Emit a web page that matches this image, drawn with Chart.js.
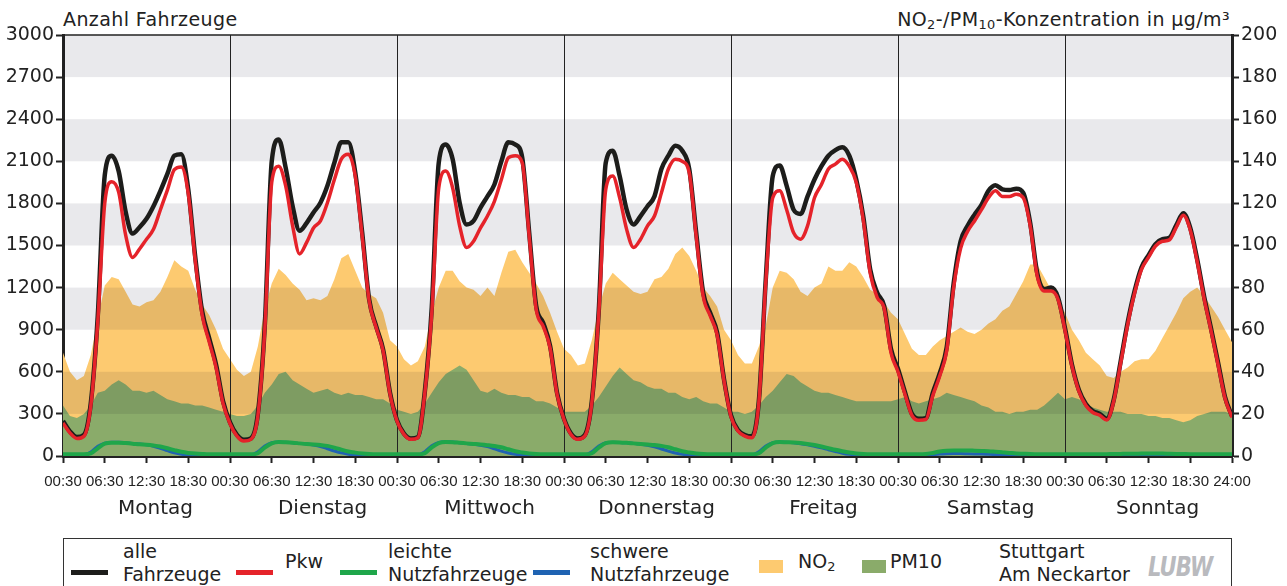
<!DOCTYPE html>
<html lang="de">
<head>
<meta charset="utf-8">
<title>Verkehr und Luftschadstoffe Stuttgart Am Neckartor</title>
<script src="https://cdn.jsdelivr.net/npm/chart.js@4.4.1/dist/chart.umd.min.js"></script>
<style>
  html, body { margin: 0; padding: 0; background: #fff; }
  body { width: 1287px; height: 586px; position: relative; overflow: hidden;
         font-family: 'DejaVu Sans', sans-serif; color: #222; }
  #chart { position: absolute; left: 0; top: 0; }
  .title { position: absolute; top: 9px; font-size: 19px; line-height: 20px; letter-spacing: 0.4px; white-space: nowrap; }
  .title sub, .legend-sub { font-size: 0.68em; vertical-align: -0.25em; line-height: 0; }
  .legend { position: absolute; left: 63px; top: 538px; width: 1167px; height: 70px;
            border: 1.5px solid #333; }
  .item { position: absolute; font-size: 19px; line-height: 22.5px; white-space: nowrap; }
  .swatch { position: absolute; height: 5px; width: 37px; }
  .box { position: absolute; height: 13px; width: 24px; }
  .logo { position: absolute; left: 1148px; top: 551px; font: italic bold 27px 'DejaVu Sans', sans-serif;
          color: #b9babe; letter-spacing: -1px; transform: scaleX(0.78); transform-origin: left top; }
</style>
</head>
<body>
<div class="title" style="left:63px">Anzahl Fahrzeuge</div>
<div class="title" style="right:57px">NO<sub>2</sub>-/PM<sub>10</sub>-Konzentration in µg/m³</div>
<canvas id="chart" width="1287" height="530"></canvas>

<div class="legend"></div>
<div class="swatch" style="left:71px;top:570px;background:#1d1d1b"></div>
<div class="item" style="left:123px;top:540px">alle<br>Fahrzeuge</div>
<div class="swatch" style="left:236px;top:570px;background:#e5232a"></div>
<div class="item" style="left:285px;top:550px">Pkw</div>
<div class="swatch" style="left:340px;top:570px;background:#1fa64a"></div>
<div class="item" style="left:388px;top:540px">leichte<br>Nutzfahrzeuge</div>
<div class="swatch" style="left:533px;top:570px;background:#1f63b2"></div>
<div class="item" style="left:590px;top:540px">schwere<br>Nutzfahrzeuge</div>
<div class="box" style="left:759px;top:560px;background:#fdca70"></div>
<div class="item" style="left:798px;top:550px">NO<span class="legend-sub">2</span></div>
<div class="box" style="left:862px;top:560px;background:#8aab6a"></div>
<div class="item" style="left:890px;top:550px">PM10</div>
<div class="item" style="left:999px;top:540px">Stuttgart<br>Am Neckartor</div>
<div class="logo">LUBW</div>

<script>
// Wochentage, je 24 Stundenwerte (Start 00:30), am Ende der Wert um 24:00
const days = ['Montag', 'Dienstag', 'Mittwoch', 'Donnerstag', 'Freitag', 'Samstag', 'Sonntag'];
const tickTimes = ['00:30', '06:30', '12:30', '18:30'];
const endTime = '24:00';

// Anzahl Fahrzeuge (linke Achse)
const alleFahrzeuge = [
  250, 175, 135, 150, 380, 1000, 2000, 2140, 2030, 1740, 1585, 1630, 1690, 1780, 1890, 2010, 2140, 2150, 1900, 1420, 1030, 840, 650, 390,
  240, 150, 115, 125, 300, 930, 2100, 2255, 2055, 1780, 1605, 1660, 1735, 1805, 1925, 2090, 2235, 2235, 2020, 1590, 1115, 925, 760, 450,
  255, 160, 125, 135, 460, 1060, 2090, 2220, 2115, 1805, 1650, 1675, 1770, 1850, 1935, 2100, 2235, 2220, 2125, 1590, 1070, 950, 785, 450,
  265, 160, 125, 150, 390, 1040, 2090, 2175, 1995, 1755, 1650, 1710, 1780, 1850, 2045, 2140, 2210, 2175, 2045, 1590, 1165, 1020, 880, 545,
  290, 185, 150, 140, 390, 1260, 1995, 2070, 1925, 1755, 1725, 1850, 1970, 2065, 2140, 2180, 2200, 2140, 1970, 1710, 1330, 1165, 1070, 760,
  620, 455, 300, 265, 270, 450, 590, 775, 1230, 1530, 1640, 1720, 1790, 1890, 1930, 1900, 1895, 1905, 1875, 1660, 1305, 1190, 1200, 1130,
  910, 650, 470, 370, 320, 300, 265, 400, 675, 950, 1175, 1345, 1430, 1510, 1545, 1555, 1645, 1730, 1625, 1400, 1135, 905, 665, 420,
  285
];
const pkw = [
  235, 165, 125, 140, 360, 960, 1800, 1955, 1880, 1575, 1415, 1475, 1545, 1615, 1755, 1895, 2040, 2060, 1870, 1395, 1005, 815, 630, 375,
  230, 142, 107, 119, 285, 900, 1950, 2065, 1925, 1640, 1440, 1520, 1625, 1675, 1805, 1970, 2115, 2150, 1995, 1565, 1105, 915, 750, 440,
  249, 154, 119, 130, 450, 1020, 1910, 2030, 1910, 1640, 1485, 1530, 1625, 1710, 1815, 1970, 2125, 2140, 2090, 1565, 1045, 925, 770, 440,
  260, 154, 119, 142, 380, 1020, 1900, 1995, 1840, 1615, 1485, 1545, 1640, 1710, 1875, 2045, 2115, 2100, 2020, 1565, 1140, 1000, 865, 535,
  280, 178, 142, 130, 380, 1235, 1840, 1890, 1755, 1590, 1545, 1640, 1840, 1935, 2045, 2080, 2115, 2065, 1950, 1685, 1305, 1130, 1055, 735,
  600, 440, 290, 255, 260, 430, 570, 750, 1200, 1480, 1600, 1675, 1755, 1840, 1890, 1850, 1850, 1865, 1840, 1640, 1285, 1175, 1175, 1115,
  895, 640, 460, 360, 310, 290, 256, 390, 660, 935, 1160, 1330, 1415, 1495, 1530, 1540, 1630, 1715, 1610, 1385, 1120, 890, 650, 410,
  275
];
const leichteNfz = [
  12, 12, 12, 12, 18, 55, 88, 95, 95, 92, 88, 83, 80, 75, 68, 55, 42, 30, 22, 17, 14, 12, 12, 12,
  12, 12, 12, 12, 20, 60, 90, 100, 98, 95, 90, 85, 82, 78, 72, 60, 45, 32, 24, 18, 14, 12, 12, 12,
  12, 12, 12, 12, 20, 62, 92, 100, 98, 94, 90, 86, 82, 77, 71, 62, 48, 34, 25, 18, 14, 12, 12, 12,
  12, 12, 12, 12, 20, 60, 92, 98, 97, 94, 90, 86, 82, 78, 72, 62, 48, 34, 25, 18, 14, 12, 12, 12,
  12, 12, 12, 12, 20, 60, 92, 100, 98, 96, 92, 86, 78, 68, 56, 44, 34, 25, 18, 14, 12, 12, 12, 12,
  12, 12, 12, 12, 14, 22, 32, 38, 40, 40, 40, 38, 36, 34, 30, 26, 22, 18, 16, 14, 13, 12, 12, 12,
  12, 12, 12, 12, 12, 12, 13, 14, 15, 16, 16, 17, 17, 17, 17, 16, 15, 14, 13, 13, 12, 12, 12, 12,
  12
];
const schwereNfz = [
  5, 5, 5, 8, 28, 70, 92, 98, 98, 95, 90, 85, 80, 70, 55, 38, 22, 12, 8, 6, 5, 5, 5, 5,
  5, 5, 5, 8, 30, 72, 95, 100, 98, 95, 90, 85, 78, 68, 52, 36, 22, 12, 8, 6, 5, 5, 5, 5,
  5, 5, 5, 8, 31, 73, 96, 101, 99, 95, 89, 84, 77, 67, 51, 35, 21, 12, 8, 6, 5, 5, 5, 5,
  5, 5, 5, 8, 30, 72, 95, 98, 97, 94, 90, 84, 76, 66, 50, 35, 21, 12, 8, 6, 5, 5, 5, 5,
  5, 5, 5, 8, 30, 72, 95, 100, 98, 94, 88, 80, 70, 58, 45, 32, 20, 12, 8, 6, 5, 5, 5, 5,
  4, 4, 4, 4, 6, 10, 14, 16, 17, 17, 16, 15, 14, 12, 10, 8, 6, 5, 5, 4, 4, 4, 4, 4,
  3, 3, 3, 3, 3, 3, 4, 4, 5, 5, 5, 5, 5, 5, 5, 5, 4, 4, 4, 4, 3, 3, 3, 3,
  3
];

// Konzentration in µg/m³ (rechte Achse)
const no2 = [
  49, 40, 36, 38, 48, 65, 81, 85, 84, 78, 72, 71, 73, 74, 78, 85, 93, 90, 88, 79, 72, 67, 60, 51,
  46, 41, 38, 40, 52, 70, 82, 89, 86, 82, 79, 74, 75, 74, 76, 84, 94, 96, 88, 80, 77, 75, 68, 55,
  52, 46, 43, 45, 52, 68, 80, 88, 88, 83, 80, 79, 76, 80, 76, 87, 97, 98, 92, 87, 82, 76, 68, 59,
  51, 48, 43, 44, 55, 70, 82, 87, 84, 81, 78, 77, 78, 84, 85, 89, 96, 99, 95, 88, 80, 76, 71, 60,
  55, 48, 44, 44, 52, 62, 80, 88, 87, 84, 78, 76, 80, 82, 90, 88, 88, 92, 90, 85, 79, 77, 73, 68,
  65, 58, 51, 48, 48, 52, 55, 57, 59, 61, 59, 58, 60, 63, 65, 69, 71, 77, 83, 91, 91, 85, 79, 74,
  68, 60, 55, 49, 46, 43, 38, 37, 40, 42, 45, 46, 46, 50, 56, 62, 68, 75, 78, 80, 76, 71, 66, 60,
  54
];
const pm10 = [
  24, 19, 18, 20, 24, 30, 31, 34, 36, 34, 31, 31, 30, 31, 29, 27, 26, 25, 25, 24, 24, 23, 22, 21,
  20, 19, 19, 20, 24, 30, 34, 39, 40, 36, 34, 32, 30, 31, 32, 30, 29, 30, 29, 29, 28, 27, 27, 25,
  22, 21, 20, 21, 25, 30, 35, 39, 41, 43, 41, 36, 31, 30, 32, 30, 29, 29, 28, 28, 26, 26, 25, 23,
  21, 21, 21, 21, 24, 28, 33, 38, 42, 39, 36, 35, 33, 32, 32, 30, 30, 28, 27, 28, 26, 25, 25, 23,
  21, 21, 20, 21, 24, 28, 31, 35, 39, 38, 35, 33, 31, 30, 30, 29, 28, 27, 26, 26, 26, 26, 26, 26,
  27, 28, 26, 25, 26, 27, 28, 30, 29, 28, 27, 26, 24, 23, 21, 21, 20, 21, 21, 22, 22, 24, 27, 30,
  27, 28, 27, 25, 23, 22, 21, 21, 21, 20, 20, 20, 19, 19, 18, 18, 17, 16, 17, 19, 20, 21, 21, 21,
  20
];

const narrow = "'Liberation Sans Narrow', 'Liberation Sans', sans-serif";
const hoursPerDay = 24;
const dayLabelHour = 13.3; // day names sit a little right of the day's middle
const grayBands = [[300, 600], [900, 1200], [1500, 1800], [2100, 2400], [2700, 3000]];

const toPoints = (arr) => arr.map((v, i) => ({ x: i, y: v }));

// grey bands are multiplied over the areas, then day separators and top frame
const backdrop = {
  id: 'backdrop',
  afterDatasetDraw(chart, args) {
    if (chart.data.datasets[args.index].label !== 'PM10') return;
    const { ctx, chartArea: a, scales } = chart;
    ctx.save();
    ctx.globalCompositeOperation = 'multiply';
    ctx.fillStyle = '#e9e9ec';
    grayBands.forEach(([lo, hi]) => {
      const top = scales.y.getPixelForValue(hi);
      const bottom = scales.y.getPixelForValue(lo);
      ctx.fillRect(a.left, top, a.right - a.left, bottom - top);
    });
    ctx.globalCompositeOperation = 'source-over';
    ctx.strokeStyle = '#222';
    ctx.lineWidth = 1;
    ctx.beginPath();
    for (let d = 1; d < days.length; d++) {
      const px = Math.round(scales.x.getPixelForValue(d * hoursPerDay)) + 0.5;
      ctx.moveTo(px, a.top);
      ctx.lineTo(px, a.bottom);
    }
    ctx.stroke();
    ctx.lineWidth = 1.5;
    ctx.beginPath();
    ctx.moveTo(a.left, a.top);
    ctx.lineTo(a.right, a.top);
    ctx.stroke();
    ctx.restore();
  }
};

const lineStyle = (color, width, order) => ({
  borderColor: color,
  borderWidth: width,
  pointRadius: 0,
  fill: false,
  cubicInterpolationMode: 'monotone',
  order: order,
  yAxisID: 'y'
});

Chart.defaults.font.family = "'DejaVu Sans', sans-serif";
Chart.defaults.color = '#222';

new Chart(document.getElementById('chart'), {
  type: 'line',
  data: {
    datasets: [
      { label: 'NO2', data: toPoints(no2), yAxisID: 'y1', order: 6, fill: 'origin',
        backgroundColor: '#fdca70', borderWidth: 0, pointRadius: 0, tension: 0 },
      { label: 'PM10', data: toPoints(pm10), yAxisID: 'y1', order: 5, fill: 'origin',
        backgroundColor: '#8aab6a', borderWidth: 0, pointRadius: 0, tension: 0 },
      { label: 'schwere Nutzfahrzeuge', data: toPoints(schwereNfz), ...lineStyle('#1f63b2', 3, 4) },
      { label: 'leichte Nutzfahrzeuge', data: toPoints(leichteNfz), ...lineStyle('#1fa64a', 4, 3) },
      { label: 'alle Fahrzeuge', data: toPoints(alleFahrzeuge), ...lineStyle('#1d1d1b', 4.5, 2) },
      { label: 'Pkw', data: toPoints(pkw), ...lineStyle('#e5232a', 3.5, 1) }
    ]
  },
  options: {
    responsive: false,
    animation: false,
    devicePixelRatio: 1,
    layout: { padding: { top: 35, left: 0, right: 0, bottom: 0 } },
    plugins: { legend: { display: false }, tooltip: { enabled: false } },
    scales: {
      x: {
        type: 'linear', position: 'bottom', weight: 0,
        min: 0, max: days.length * hoursPerDay,
        afterBuildTicks(scale) {
          const ticks = [];
          for (let h = 0; h <= days.length * hoursPerDay; h += 6) ticks.push({ value: h });
          scale.ticks = ticks;
        },
        ticks: {
          autoSkip: false, maxRotation: 0, padding: 10, color: '#222',
          font: { family: narrow, size: 15 },
          callback: (v) => v === days.length * hoursPerDay ? endTime : tickTimes[(v % hoursPerDay) / 6]
        },
        grid: { drawOnChartArea: false, drawTicks: true, tickLength: 7, tickColor: '#222', tickWidth: 2, color: 'transparent' },
        border: { display: true, color: '#222', width: 3 },
        afterFit(scale) { scale.height = 33; }
      },
      days: {
        type: 'linear', position: 'bottom', weight: 1,
        min: 0, max: days.length * hoursPerDay,
        afterBuildTicks(scale) {
          scale.ticks = days.map((d, i) => ({ value: i * hoursPerDay + dayLabelHour }));
        },
        ticks: {
          autoSkip: false, maxRotation: 0, padding: 0, color: '#222',
          font: { size: 20 },
          callback: (v) => days[Math.floor(v / hoursPerDay)]
        },
        grid: { display: false },
        border: { display: false },
        afterFit(scale) { scale.height = 41; }
      },
      y: {
        type: 'linear', position: 'left', min: 0, max: 3000,
        ticks: { stepSize: 300, padding: 2, color: '#222', font: { size: 19 }, callback: (v) => String(v) },
        grid: { drawOnChartArea: false, drawTicks: true, tickLength: 7, tickColor: '#222', tickWidth: 2, color: 'transparent' },
        border: { display: true, color: '#222', width: 3 },
        afterFit(scale) { scale.width = 63; }
      },
      y1: {
        type: 'linear', position: 'right', min: 0, max: 200,
        ticks: { stepSize: 20, padding: 2, color: '#222', font: { size: 19 }, callback: (v) => String(v) },
        grid: { drawOnChartArea: false, drawTicks: true, tickLength: 7, tickColor: '#222', tickWidth: 2, color: 'transparent' },
        border: { display: true, color: '#222', width: 3 },
        afterFit(scale) { scale.width = 55; }
      }
    }
  },
  plugins: [backdrop]
});
</script>
</body>
</html>
